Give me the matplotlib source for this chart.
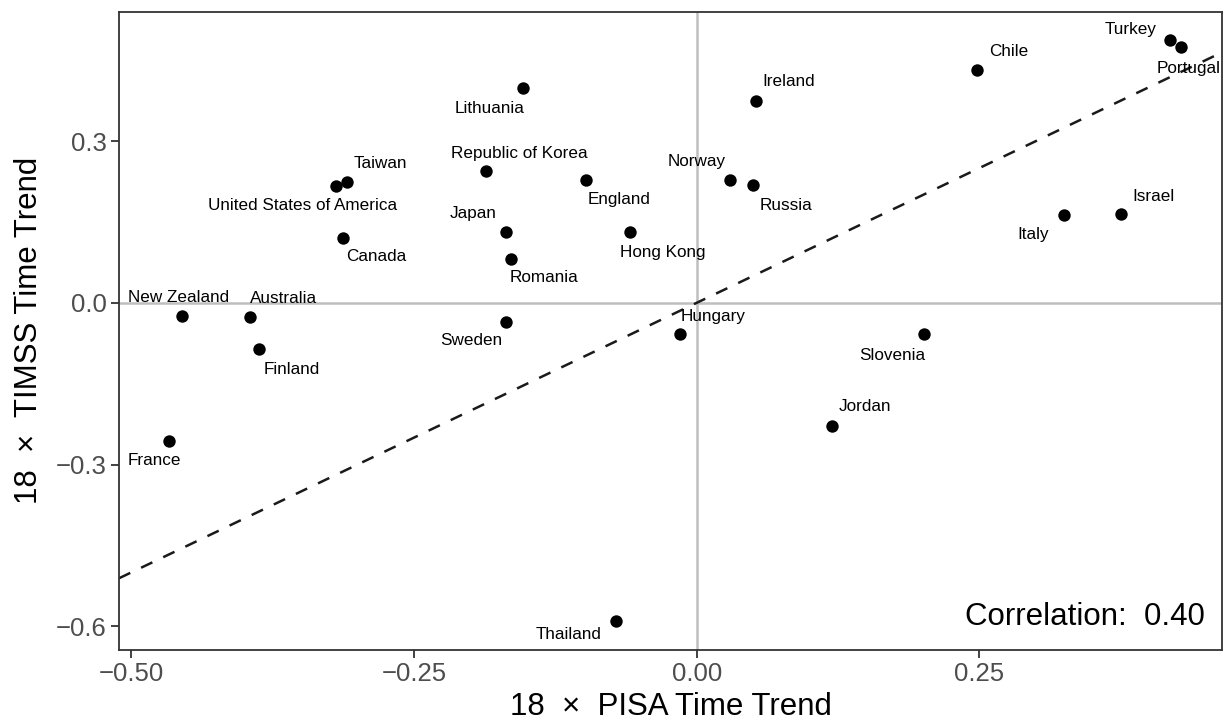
import numpy as np
import matplotlib
matplotlib.use("Agg")
import matplotlib.pyplot as plt

plt.rcParams['font.family'] = ['Liberation Sans', 'DejaVu Sans']

# PISA vs TIMSS time trends (scaled by 18)
countries = ["Lithuania", "Ireland", "Republic of Korea", "Taiwan",
             "United States of America", "Canada", "Japan", "Romania",
             "Sweden", "New Zealand", "Australia", "Finland", "England",
             "Hong Kong", "Norway", "Russia", "Hungary", "Chile", "Turkey",
             "Portugal", "Italy", "Israel", "Slovenia", "Jordan",
             "Thailand", "France"]
pisa = [-0.154, 0.052, -0.186, -0.309, -0.319, -0.313, -0.169, -0.164,
        -0.169, -0.455, -0.395, -0.387, -0.098, -0.059, 0.029, 0.050,
        -0.015, 0.248, 0.419, 0.428, 0.325, 0.375, 0.201, 0.120,
        -0.071, -0.467]
timss = [0.398, 0.375, 0.244, 0.224, 0.216, 0.121, 0.131, 0.082,
         -0.035, -0.025, -0.027, -0.086, 0.227, 0.131, 0.228, 0.218,
         -0.058, 0.432, 0.487, 0.474, 0.162, 0.165, -0.058, -0.228,
         -0.591, -0.256]
correlation = 0.40

xticks = [-0.50, -0.25, 0.00, 0.25]
yticks = [-0.6, -0.3, 0.0, 0.3]

# label placement relative to each point (pixels, right / up)
label_offsets = {
    "Lithuania": (-33, -20), "Ireland": (33, 19), "Republic of Korea": (33, 18),
    "Taiwan": (33, 19), "United States of America": (-33, -19),
    "Canada": (33, -19), "Japan": (-33, 19), "Romania": (33, -19),
    "Sweden": (-34, -19), "New Zealand": (-4, 19), "Australia": (33, 19),
    "Finland": (33, -20), "England": (33, -19), "Hong Kong": (33, -20),
    "Norway": (-33, 18), "Russia": (33, -20), "Hungary": (33, 18),
    "Chile": (32, 18), "Turkey": (-40, 11), "Portugal": (8, -21),
    "Italy": (-31, -19), "Israel": (33, 17), "Slovenia": (-32, -21),
    "Jordan": (33, 19), "Thailand": (-48, -13), "France": (-14, -20),
}

fig = plt.figure(figsize=(12.24, 7.26), dpi=100)
ax = fig.add_axes([0.0972, 0.1047, 0.9012, 0.8792])

ax.axhline(0, color='#BEBEBE', lw=1.8, zorder=1)
ax.axvline(0, color='#BEBEBE', lw=1.8, zorder=1)
ax.axline((0, 0), slope=1, color='#1A1A1A', lw=1.8, ls=(0, (5, 4.8)), zorder=2)

ax.scatter(pisa, timss, s=80, color='black', zorder=3, linewidths=0)

for name, x, y in zip(countries, pisa, timss):
    dx, dy = label_offsets[name]
    ax.annotate(name, (x, y), xytext=(dx, dy), textcoords='offset pixels',
                ha='center', va='center', fontsize=12.3, color='black', zorder=4)

ax.text(0.9846, 0.052, "Correlation:  %.2f" % correlation, transform=ax.transAxes,
        ha='right', va='center', fontsize=22.5, color='black')

ax.set_xlim(-0.511, 0.4646)
ax.set_ylim(-0.644, 0.540)
ax.set_xticks(xticks)
ax.set_xticklabels(["\u22120.50", "\u22120.25", "0.00", "0.25"])
ax.set_yticks(yticks)
ax.set_yticklabels(["\u22120.6", "\u22120.3", "0.0", "0.3"])

for s in ax.spines.values():
    s.set_color('#333333')
    s.set_linewidth(1.3)
ax.tick_params(direction='out', length=6, width=1.3, color='#333333',
               labelcolor='#4D4D4D', labelsize=18.5, pad=3)

ax.set_xlabel("18 \u00a0\u00d7\u00a0 PISA Time Trend", fontsize=22.5, labelpad=4)
ax.set_ylabel("18 \u00a0\u00d7\u00a0 TIMSS Time Trend", fontsize=22.5, labelpad=8)

fig.savefig("out.png", dpi=100)
